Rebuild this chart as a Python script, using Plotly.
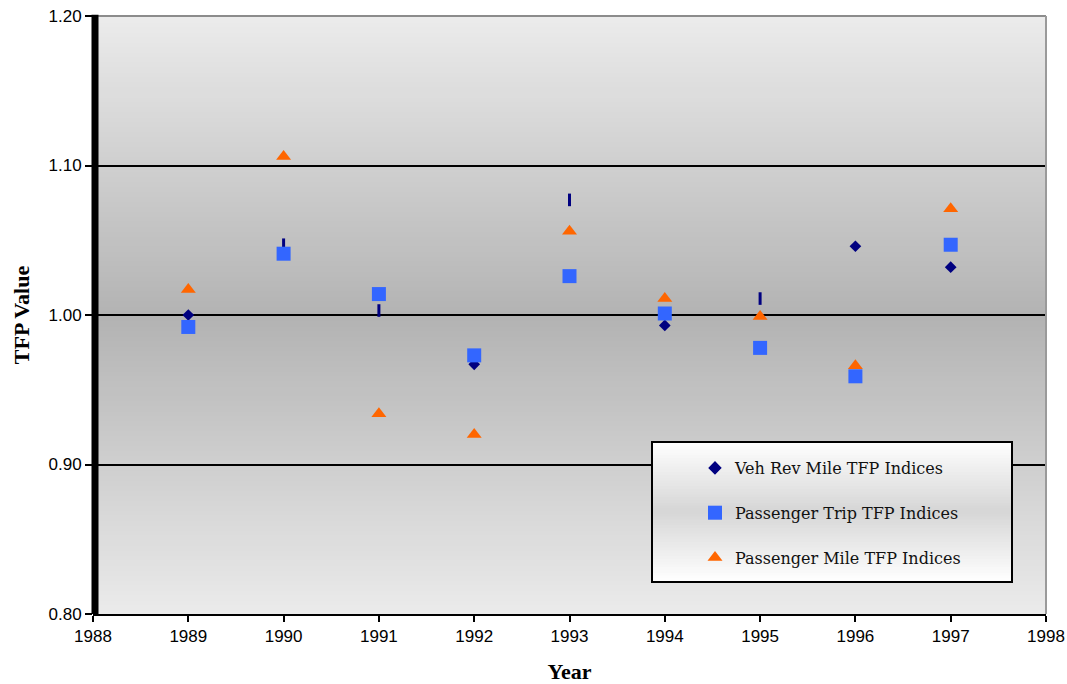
import plotly.graph_objects as go

# --- data -------------------------------------------------------------
years = [1989, 1990, 1991, 1992, 1993, 1994, 1995, 1996, 1997]
veh_rev_mile = [1.000, 1.047, 1.003, 0.967, 1.077, 0.993, 1.011, 1.046, 1.032]
passenger_trip = [0.992, 1.041, 1.014, 0.973, 1.026, 1.001, 0.978, 0.959, 1.047]
passenger_mile = [1.017, 1.106, 0.934, 0.920, 1.056, 1.011, 0.999, 0.966, 1.071]
# some of the diamond points are rendered as thin vertical bars
veh_symbols = ["diamond", "line-ns", "line-ns", "diamond", "line-ns",
               "diamond", "line-ns", "diamond", "diamond"]

x_range = [1988, 1998]
y_range = [0.80, 1.20]

NAVY = "#000080"
BLUE = "#3366FF"
ORANGE = "#FF6600"

W, H = 1067, 684
ML, MR, MT, MB = 93, 21, 16, 70
PW, PH = W - ML - MR, H - MT - MB


def px_x(p):
    return (p - ML) / PW


def px_y(p):
    return (H - MB - p) / PH


fig = go.Figure()

fig.add_trace(go.Scatter(
    x=years, y=veh_rev_mile, mode="markers", name="Veh Rev Mile TFP Indices",
    legendgroup="a",
    marker=dict(symbol=veh_symbols, size=9, color=NAVY,
                line=dict(color=NAVY,
                          width=[0 if s == "diamond" else 3 for s in veh_symbols])),
))
fig.add_trace(go.Scatter(
    x=years, y=passenger_trip, mode="markers", name="Passenger Trip TFP Indices",
    legendgroup="b",
    marker=dict(symbol="square", size=14, color=BLUE, line=dict(width=0)),
))
fig.add_trace(go.Scatter(
    x=years, y=passenger_mile, mode="markers", name="Passenger Mile TFP Indices",
    legendgroup="c",
    marker=dict(symbol="triangle-up", size=13, color=ORANGE, line=dict(width=0)),
))

shapes = []

# plot area: vertical gradient, light at the edges and darkest in the middle
n_bands = 120
light, dark = 235, 179
step = 1 / n_bands
for i in range(n_bands):
    t = (i + 0.5) / n_bands
    v = round(light - (light - dark) * (1 - abs(2 * t - 1)))
    y0 = max(0, i * step - step * 0.3)
    y1 = min(1, (i + 1) * step + step * 0.3)
    shapes.append(dict(type="rect", xref="paper", yref="paper",
                       x0=0, x1=1, y0=y0, y1=y1,
                       fillcolor=f"rgb({v},{v},{v})", line=dict(width=0),
                       layer="below"))

# frame: grey top and right edges, heavy black left edge
shapes.append(dict(type="line", xref="paper", yref="paper", x0=0, x1=1, y0=1, y1=1,
                   line=dict(color="#8c8c8c", width=2), layer="above"))
shapes.append(dict(type="line", xref="paper", yref="paper", x0=1, x1=1, y0=0, y1=1,
                   line=dict(color="#9a9a9a", width=2), layer="above"))
shapes.append(dict(type="line", xref="paper", yref="paper",
                   x0=px_x(95), x1=px_x(95), y0=0, y1=1.002,
                   line=dict(color="black", width=7), layer="above"))

# legend box: white-grey-white gradient with a black border
lx0, lx1, ly_top, ly_bot = 652, 1012, 442, 582
n_leg = 50
l_light, l_dark = 255, 214
for i in range(n_leg):
    t = (i + 0.5) / n_leg
    v = round(l_light - (l_light - l_dark) * (1 - abs(2 * t - 1)))
    p0 = ly_top + (ly_bot - ly_top) * max(0, i - 0.3) / n_leg
    p1 = ly_top + (ly_bot - ly_top) * min(n_leg, i + 1.3) / n_leg
    shapes.append(dict(type="rect", xref="paper", yref="paper",
                       x0=px_x(lx0), x1=px_x(lx1), y0=px_y(p1), y1=px_y(p0),
                       fillcolor=f"rgb({v},{v},{v})", line=dict(width=0),
                       layer="above"))
shapes.append(dict(type="rect", xref="paper", yref="paper",
                   x0=px_x(lx0), x1=px_x(lx1), y0=px_y(ly_bot), y1=px_y(ly_top),
                   line=dict(color="black", width=2), fillcolor="rgba(0,0,0,0)",
                   layer="above"))

tick_font = dict(family="Liberation Sans, Arial, sans-serif", size=17, color="black")
title_font = dict(family="Liberation Serif, Times New Roman, serif", size=22,
                  color="black", weight="bold")

fig.update_layout(
    width=W, height=H,
    margin=dict(l=ML, r=MR, t=MT, b=MB, autoexpand=False),
    paper_bgcolor="white",
    plot_bgcolor="rgba(0,0,0,0)",
    shapes=shapes,
    showlegend=True,
    legend=dict(
        x=px_x(695), y=px_y(451), xanchor="left", yanchor="top",
        bgcolor="rgba(0,0,0,0)", borderwidth=0,
        font=dict(family="DejaVu Serif, serif", size=16, color="#111111"),
        traceorder="grouped", tracegroupgap=21,
    ),
    xaxis=dict(
        range=x_range, dtick=1, tick0=1988,
        showgrid=False, zeroline=False,
        showline=True, linecolor="black", linewidth=2,
        ticks="outside", ticklen=6, tickwidth=2, tickcolor="black",
        tickfont=tick_font,
        title=dict(text="Year", font=title_font, standoff=18),
    ),
    yaxis=dict(
        range=y_range, dtick=0.1, tick0=0.8, tickformat=".2f",
        showgrid=True, gridcolor="black", gridwidth=2,
        zeroline=False, showline=False,
        ticks="outside", ticklen=7, tickwidth=2, tickcolor="black",
        tickfont=tick_font,
        title=dict(text="TFP Value", font=title_font, standoff=12),
    ),
)

fig.write_html("out.html")
